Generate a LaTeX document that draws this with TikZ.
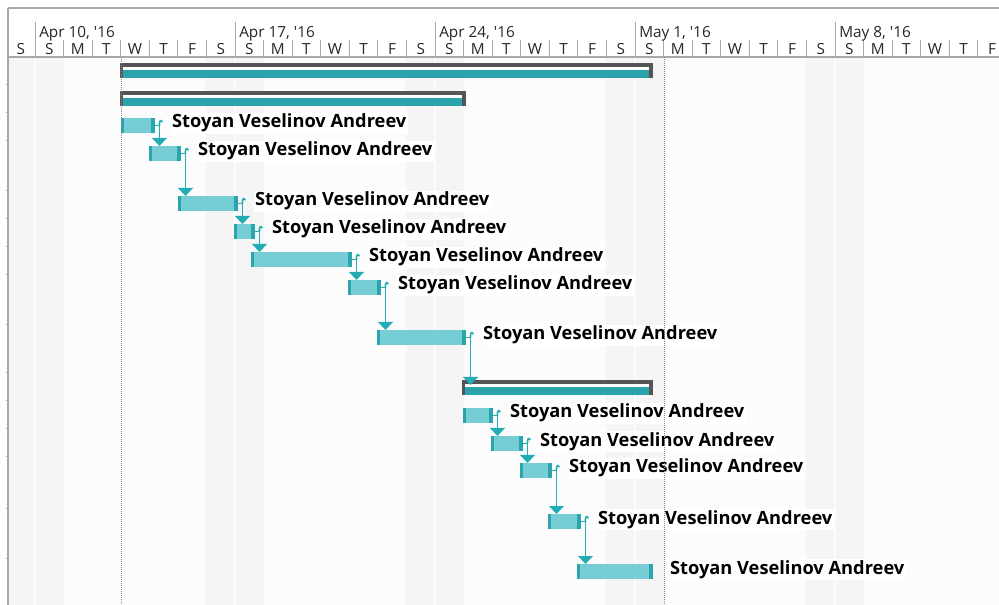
\documentclass[tikz,border=0pt]{standalone}
\usepackage{fontspec}
\setmainfont{Open Sans}
\usetikzlibrary{arrows.meta,calc}

\definecolor{pagebg}{HTML}{FCFCFC}
\definecolor{weekend}{HTML}{F5F5F5}
\definecolor{rulegray}{HTML}{A8A8A8}
\definecolor{headtext}{HTML}{262630}
\definecolor{taskfill}{HTML}{76CDD5}
\definecolor{taskcap}{HTML}{2AA5AD}
\definecolor{sumteal}{HTML}{2BA3AA}
\definecolor{sumframe}{HTML}{555555}
\definecolor{linkteal}{HTML}{22ADB5}
\definecolor{dotgray}{HTML}{8A8A8A}

\tikzset{
  daylabel/.style={font=\fontsize{11.5}{13}\selectfont, text=headtext, inner sep=0pt, anchor=base},
  monthlabel/.style={font=\fontsize{11.5}{13}\selectfont, text=headtext, inner sep=0pt, anchor=base west},
  taskbar/.style={rectangle, fill=taskfill, inner sep=0pt, outer sep=0pt, anchor=north west, minimum height=11.25pt},
  sumbar/.style={rectangle, fill=white, inner sep=0pt, outer sep=0pt, anchor=north west, minimum height=11.6pt},
  owner/.style={font=\bfseries\fontsize{13.7}{15}\selectfont, text=black, fill=white, inner xsep=1pt, inner ysep=1pt, anchor=base west},
  deplink/.style={draw=linkteal, line width=1.2pt},
  deplinkhead/.style={deplink, -{Triangle[length=6pt,width=11pt]}},
  todayline/.style={draw=dotgray, line width=0.75pt, dash pattern=on 0.75pt off 0.75pt},
  headrule/.style={draw=rulegray, line width=0.75pt},
}

% task bar: name, start x, finish x, top y
\newcommand\ganttTask[4]{%
  \node[taskbar, minimum width={(#3-#2)*0.75pt}] (#1) at (#2,#4) {};
  \fill[taskcap] (#1.north west) rectangle ++(3,15);
  \fill[taskcap] (#1.north east) rectangle ++(-4,15);
  \node[owner] (#1n) at ($(#1.north east)+(15.5,10)$) {Stoyan Veselinov Andreev};
}
% summary bar: name, start x, finish x, top y
\newcommand\ganttSummary[4]{%
  \node[sumbar, minimum width={(#3-#2)*0.75pt}] (#1) at (#2,#4) {};
  \fill[sumframe] (#1.north west) rectangle ($(#1.north east)+(0,4)$);
  \fill[sumteal] ($(#1.north west)+(0,7)$) rectangle (#1.south east);
  \fill[sumframe] (#1.north west) rectangle ($(#1.south west)+(3,0)$);
  \fill[sumframe] (#1.north east) rectangle ($(#1.south east)+(-4,0)$);
}
% finish-to-start link: from, to, extra depth of the tip
\newcommand\ganttLink[3]{%
  \coordinate (#1v) at ($(#1.east)+(4.5,0)$);
  \draw[deplink] (#1.east) -- (#1v);
  \draw[deplink] ($(#1v)+(3,-3.5)$) .. controls ($(#1v)+(2.5,-5.5)$) and ($(#1v)+(0,-5.5)$) .. ($(#1v)+(0,-2.5)$) -- (#1v);
  \draw[deplinkhead] (#1v) -- ($(#1v |- #2.north)+(0,#3)$);
}

\begin{document}
\begin{tikzpicture}[x=0.75pt,y=-0.75pt]
\useasboundingbox (0,0) rectangle (999,605);
\fill[white] (0,0) rectangle (999,605);
\fill[pagebg] (8,57) rectangle (999,605);

% weekend columns (Saturday, Sunday)
\foreach \k in {0,7,14,21,28} {
  \pgfmathsetmacro\xa{max(8,6.43+28.5714*\k)}
  \pgfmathsetmacro\xb{6.43+28.5714*(\k+1)}
  \pgfmathsetmacro\xc{6.43+28.5714*(\k+2)}
  \fill[weekend] (\xa,57) rectangle (\xb-0.7,605);
  \fill[weekend] (\xb+1,57) rectangle (\xc,605);
}

% timescale header
\draw[draw=rulegray, line width=1.5pt] (8,8) -- (999,8);
\draw[draw=rulegray, line width=1.5pt] (8,8) -- (8,605);
\draw[draw=rulegray, line width=1.2pt] (8,57) -- (999,57);
\foreach \k in {1,...,34} {
  \pgfmathsetmacro\xs{6.43+28.5714*\k}
  \draw[headrule] (\xs,40) -- (\xs,57);
}
\foreach \k in {1,8,15,22,29} {
  \pgfmathsetmacro\xs{6.43+28.5714*\k}
  \draw[headrule] (\xs,22) -- (\xs,57);
}
\node[monthlabel] (m1) at (39,37.5) {Apr 10, \textquotesingle16};
\node[monthlabel] (m2) at (239,37.5) {Apr 17, \textquotesingle16};
\node[monthlabel] (m3) at (439,37.5) {Apr 24, \textquotesingle16};
\node[monthlabel] (m4) at (639,37.5) {May 1, \textquotesingle16};
\node[monthlabel] (m5) at (839,37.5) {May 8, \textquotesingle16};
\foreach \d [count=\k from 0] in {S,S,M,T,W,T,F,S,S,M,T,W,T,F,S,S,M,T,W,T,F,S,S,M,T,W,T,F,S,S,M,T,W,T,F} {
  \pgfmathsetmacro\xm{6.43+28.5714*(\k+0.5)}
  \node[daylabel] (d\k) at (\xm,55) {\d};
}

% row marks on the left edge
\foreach \yy in {85,113,141,191,219,247,275,325,373,401,429,457,508,558}
  \draw[headrule] (5.5,\yy) -- (8,\yy);

% summary bars
\ganttSummary{s1}{120}{653}{63}
\ganttSummary{s2}{120}{466}{91}
\ganttSummary{s3}{462}{653}{380}

% tasks
\ganttTask{t1}{121}{155}{118}
\ganttTask{t2}{149}{181}{146}
\ganttTask{t3}{178}{238}{196}
\ganttTask{t4}{234}{255}{224}
\ganttTask{t5}{251}{352}{252}
\ganttTask{t6}{348}{381}{280}
\ganttTask{t7}{377}{466}{330}
\ganttTask{t8}{463}{493}{408}
\ganttTask{t9}{491}{523}{436}
\ganttTask{t10}{520}{552}{463}
\ganttTask{t11}{548}{581}{514}
\ganttTask{t12}{577}{653}{564}

% dependencies
\ganttLink{t1}{t2}{0}
\ganttLink{t2}{t3}{0}
\ganttLink{t3}{t4}{0}
\ganttLink{t4}{t5}{0}
\ganttLink{t5}{t6}{0}
\ganttLink{t6}{t7}{0}
\ganttLink{t7}{s3}{5}
\ganttLink{t8}{t9}{0}
\ganttLink{t9}{t10}{0}
\ganttLink{t10}{t11}{0}
\ganttLink{t11}{t12}{0}

% project start and finish markers
\coordinate (startTop) at (121,57);
\coordinate (startBot) at (121,605);
\coordinate (finTop) at (664,57);
\coordinate (finBot) at (664,605);
\draw[todayline] (startTop) -- (startBot);
\draw[todayline] (finTop) -- (finBot);
\end{tikzpicture}
\end{document}
